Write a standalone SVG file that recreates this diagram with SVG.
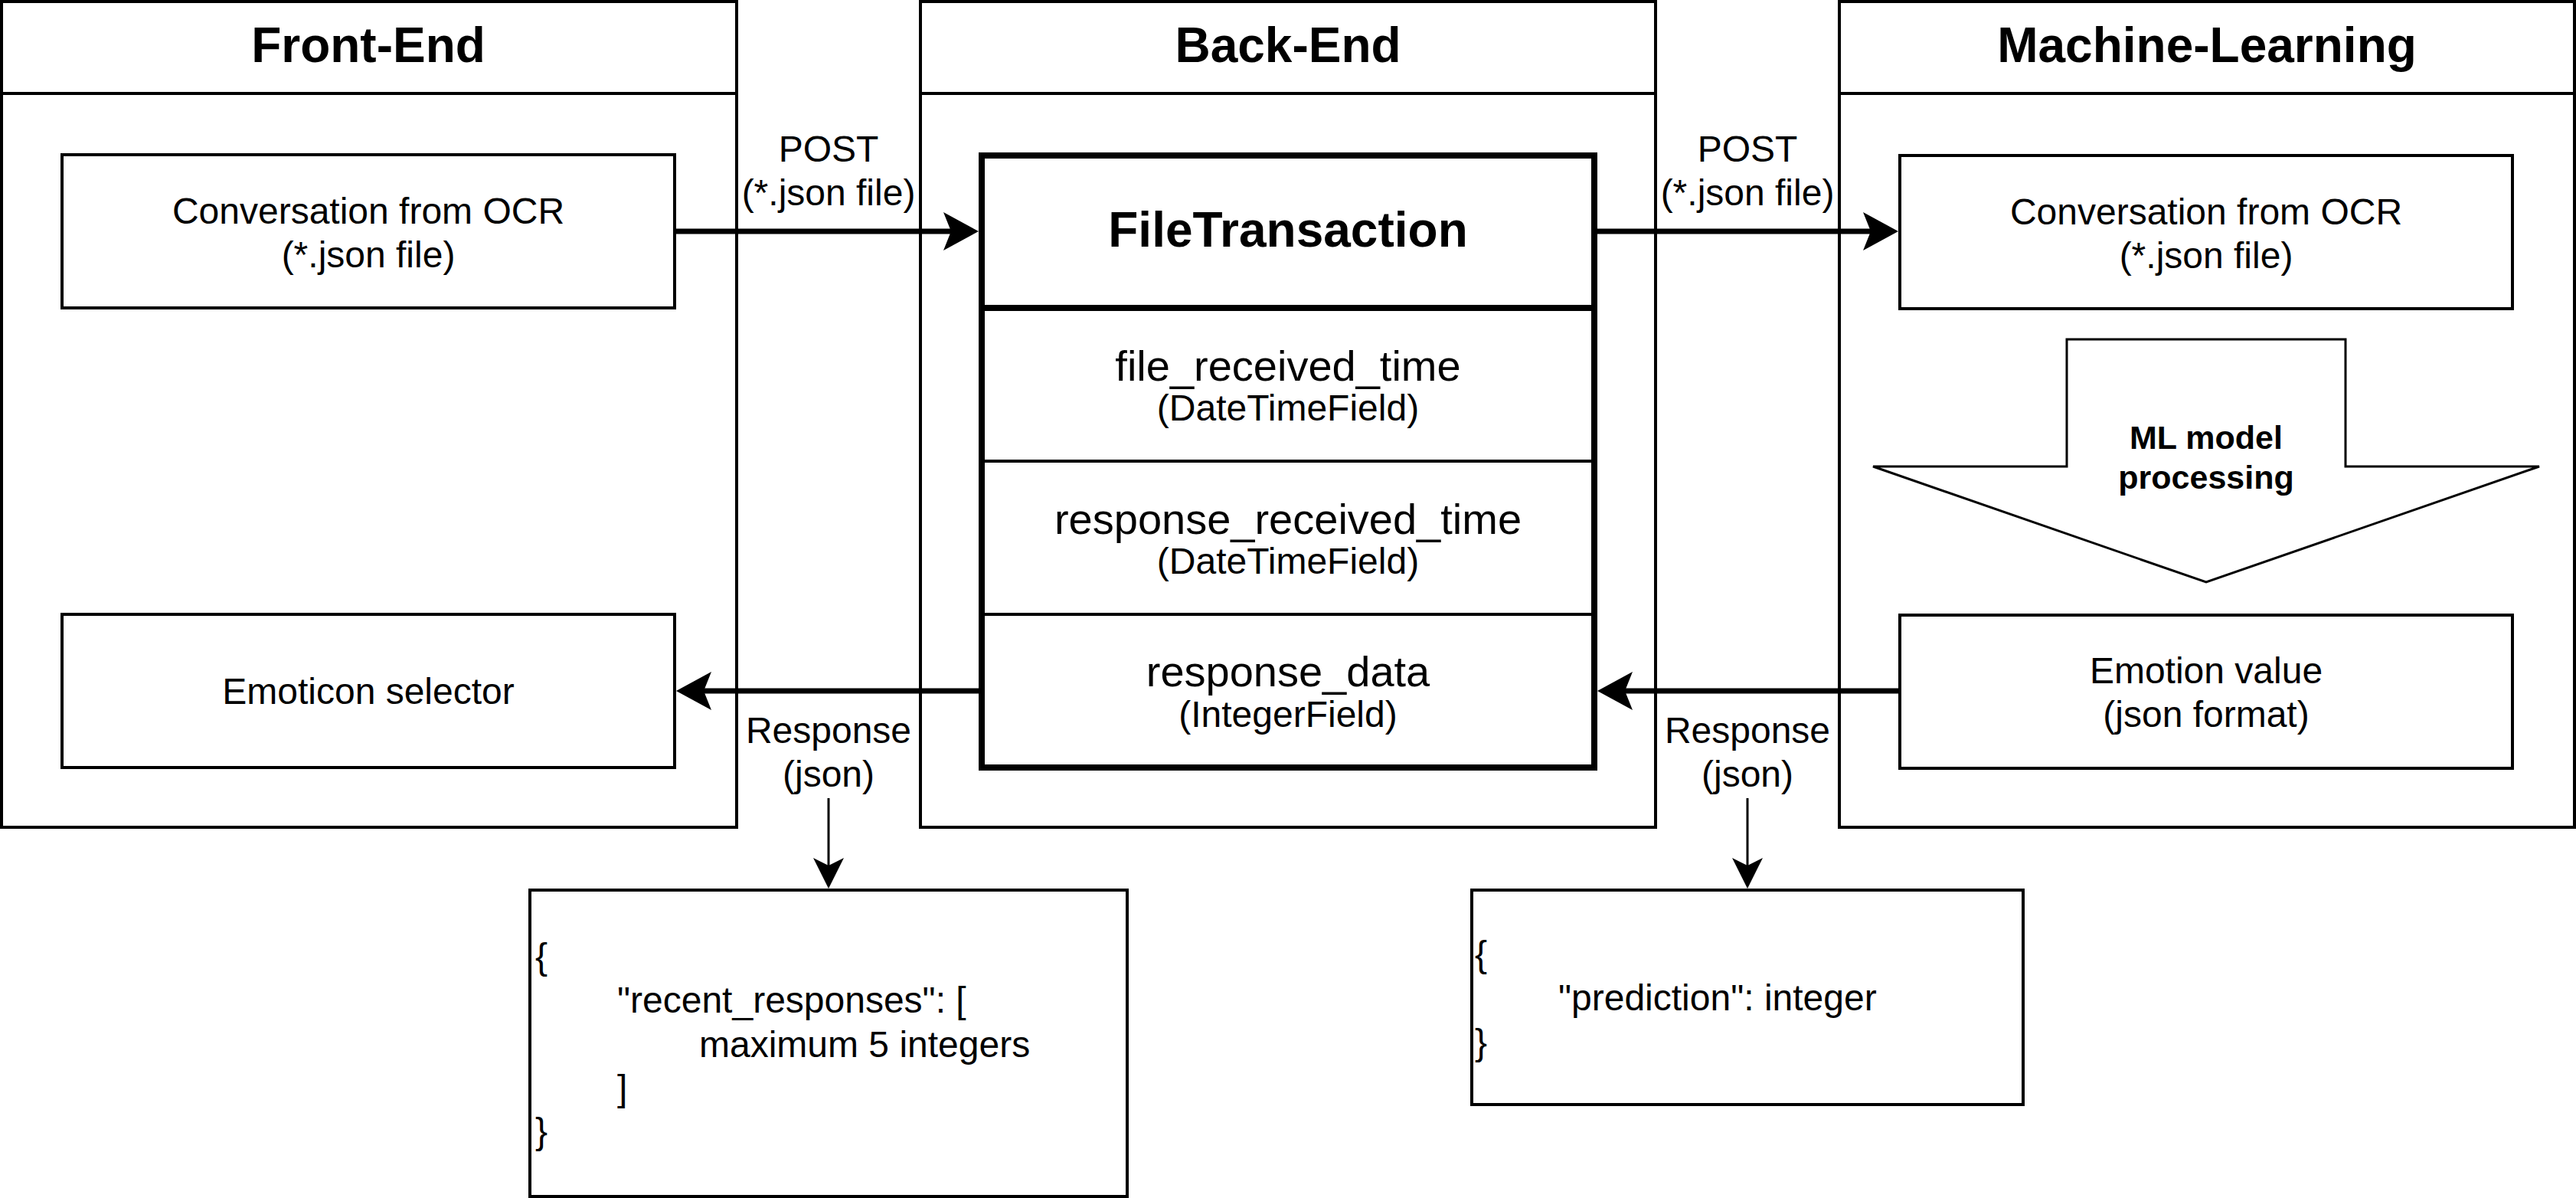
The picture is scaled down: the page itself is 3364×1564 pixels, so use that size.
<svg xmlns="http://www.w3.org/2000/svg" width="3364" height="1564" viewBox="0 0 3364 1564">
<style>
text{font-family:"Liberation Sans",Arial,Helvetica,sans-serif;fill:#000}
.hd{font-size:64px;font-weight:bold;text-anchor:middle}
.b{font-size:48px;text-anchor:middle}
.f{font-size:56px;text-anchor:middle}
.j{font-size:48px}
.pan{fill:#fff;stroke:#000;stroke-width:4}
.box{fill:#fff;stroke:#000;stroke-width:4}
.thick{fill:none;stroke:#000;stroke-width:7}
.thin{fill:none;stroke:#000;stroke-width:3}
</style>
<defs>
<marker id="ah" markerUnits="userSpaceOnUse" markerWidth="46" markerHeight="50" refX="10" refY="25" orient="auto" overflow="visible">
<path d="M0,0 L46,25 L0,50 L10,25 Z" fill="#000"/>
</marker>
<marker id="ahs" markerUnits="userSpaceOnUse" markerWidth="40" markerHeight="40" refX="10" refY="20" orient="auto" overflow="visible">
<path d="M0,0 L40,20 L0,40 L10,20 Z" fill="#000"/>
</marker>
</defs>
<rect width="3364" height="1564" fill="#fff"/>

<g id="front-end">
<rect class="pan" x="2" y="2" width="960" height="1078"/>
<line x1="2" y1="122" x2="962" y2="122" stroke="#000" stroke-width="4"/>
<text class="hd" x="481" y="81">Front-End</text>
</g>
<g id="back-end">
<rect class="pan" x="1202" y="2" width="960" height="1078"/>
<line x1="1202" y1="122" x2="2162" y2="122" stroke="#000" stroke-width="4"/>
<text class="hd" x="1682" y="81">Back-End</text>
</g>
<g id="machine-learning">
<rect class="pan" x="2402" y="2" width="960" height="1078"/>
<line x1="2402" y1="122" x2="3362" y2="122" stroke="#000" stroke-width="4"/>
<text class="hd" x="2882" y="81">Machine-Learning</text>
</g>

<g id="fe-conversation">
<rect class="box" x="81" y="202" width="800" height="200"/>
<text class="b" x="481" y="292">Conversation from OCR</text>
<text class="b" x="481" y="349">(*.json file)</text>
</g>
<g id="fe-emoticon">
<rect class="box" x="81" y="802" width="800" height="200"/>
<text class="b" x="481" y="919">Emoticon selector</text>
</g>

<g id="file-transaction">
<rect x="1282" y="203" width="800" height="799" fill="#fff" stroke="#000" stroke-width="8"/>
<line x1="1282" y1="402" x2="2082" y2="402" stroke="#000" stroke-width="8"/>
<line x1="1282" y1="602" x2="2082" y2="602" stroke="#000" stroke-width="4"/>
<line x1="1282" y1="802" x2="2082" y2="802" stroke="#000" stroke-width="4"/>
<text class="hd" x="1682" y="322">FileTransaction</text>
<text class="f" x="1682" y="497">file_received_time</text>
<text class="b" x="1682" y="549">(DateTimeField)</text>
<text class="f" x="1682" y="697">response_received_time</text>
<text class="b" x="1682" y="749">(DateTimeField)</text>
<text class="f" x="1682" y="896">response_data</text>
<text class="b" x="1682" y="949">(IntegerField)</text>
</g>

<g id="ml-conversation">
<rect class="box" x="2481" y="203" width="800" height="200"/>
<text class="b" x="2881" y="293">Conversation from OCR</text>
<text class="b" x="2881" y="350">(*.json file)</text>
</g>
<g id="ml-processing">
<polygon points="2699,443 3063,443 3063,609 3316,609 2881,760 2446,609 2699,609" fill="#fff" stroke="#000" stroke-width="3"/>
<text x="2881" y="586" style="font-size:43px;font-weight:bold;text-anchor:middle">ML model</text>
<text x="2881" y="638" style="font-size:43px;font-weight:bold;text-anchor:middle">processing</text>
</g>
<g id="ml-emotion">
<rect class="box" x="2481" y="803" width="800" height="200"/>
<text class="b" x="2881" y="892">Emotion value</text>
<text class="b" x="2881" y="949">(json format)</text>
</g>

<g id="json-recent">
<rect class="box" x="692" y="1162" width="780" height="400"/>
<text class="j" x="699" y="1265">{</text>
<text class="j" x="806" y="1322">"recent_responses": [</text>
<text class="j" x="913" y="1380">maximum 5 integers</text>
<text class="j" x="806" y="1437">]</text>
<text class="j" x="699" y="1493">}</text>
</g>
<g id="json-prediction">
<rect class="box" x="1922" y="1162" width="720" height="280"/>
<text class="j" x="1926" y="1262">{</text>
<text class="j" x="2035" y="1319">"prediction": integer</text>
<text class="j" x="1926" y="1377">}</text>
</g>

<g id="connectors">
<line class="thick" x1="883" y1="302" x2="1242" y2="302" marker-end="url(#ah)"/>
<line class="thick" x1="2086" y1="302" x2="2443" y2="302" marker-end="url(#ah)"/>
<line class="thick" x1="1278" y1="902" x2="919" y2="902" marker-end="url(#ah)"/>
<line class="thick" x1="2479" y1="902" x2="2122" y2="902" marker-end="url(#ah)"/>
<line class="thin" x1="1082" y1="1042" x2="1082" y2="1130" marker-end="url(#ahs)"/>
<line class="thin" x1="2282" y1="1042" x2="2282" y2="1130" marker-end="url(#ahs)"/>
<g>
<text class="b" x="1082" y="211">POST</text>
<text class="b" x="1082" y="268">(*.json file)</text>
<text class="b" x="2282" y="211">POST</text>
<text class="b" x="2282" y="268">(*.json file)</text>
<text class="b" x="1082" y="970">Response</text>
<text class="b" x="1082" y="1027">(json)</text>
<text class="b" x="2282" y="970">Response</text>
<text class="b" x="2282" y="1027">(json)</text>
</g>
</g>
</svg>
